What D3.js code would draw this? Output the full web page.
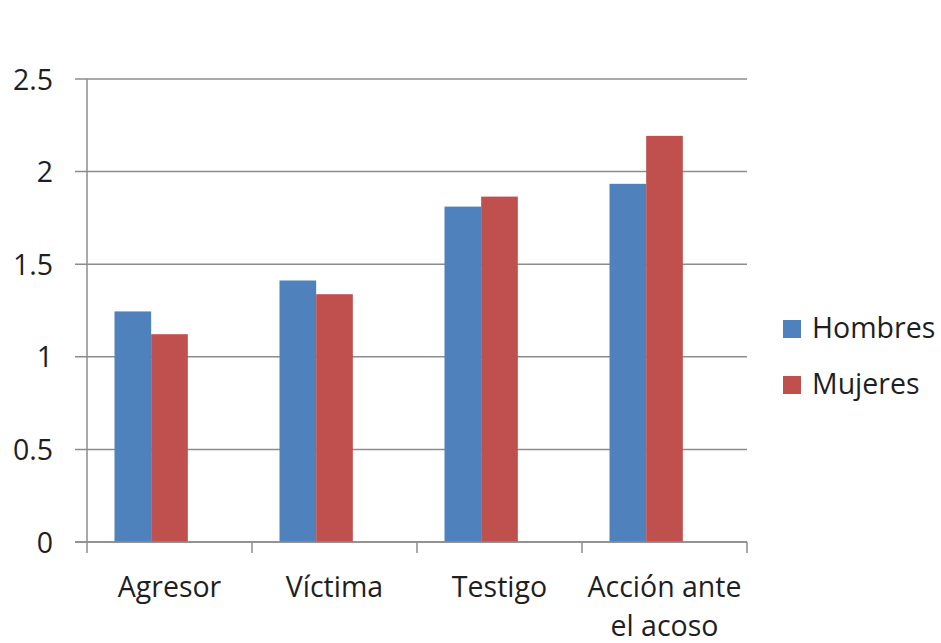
<!DOCTYPE html>
<html>
<head>
<meta charset="utf-8">
<script src="https://cdn.jsdelivr.net/npm/d3@7"></script>
<style>
  html, body { margin: 0; padding: 0; background: #fff; }
  svg text { font-family: "Open Sans", "Liberation Sans", sans-serif; fill: #1f1f1f; }
</style>
</head>
<body>
<svg id="chart" width="941" height="643"></svg>
<script>
// Categories and series
const categories = ["Agresor", "Víctima", "Testigo", "Acción ante el acoso"];
const categoryLines = [["Agresor"], ["Víctima"], ["Testigo"], ["Acción ante", "el acoso"]];
const seriesNames = ["Hombres", "Mujeres"];
const hombres = [1.245, 1.412, 1.811, 1.934];
const mujeres = [1.122, 1.338, 1.865, 2.193];
const yTicks = [0, 0.5, 1, 1.5, 2, 2.5];
const yTickLabels = ["0", "0.5", "1", "1.5", "2", "2.5"];
const colors = ["#4F81BD", "#C0504D"];

const seriesValues = [hombres, mujeres];
const fontSize = 28.5;

const svg = d3.select("#chart");
const plot = { left: 87, right: 747, top: 79, bottom: 542 };

const x0 = d3.scaleBand().domain(categories).range([plot.left, plot.right]).padding(0);
const y = d3.scaleLinear().domain([0, 2.5]).range([plot.bottom, plot.top]);

// Bar width follows a clustered layout with a 150% gap (3 slots per category)
const bw = x0.bandwidth() / 4.5;
const x1 = d3.scaleBand().domain(seriesNames).range([bw * 0.75, bw * 2.75]).padding(0);

const gridColor = "#8c8c8c";

// Horizontal gridlines with short left ticks
svg.append("g")
  .selectAll("line")
  .data(yTicks)
  .join("line")
  .attr("x1", plot.left - 12)
  .attr("x2", plot.right)
  .attr("y1", d => y(d))
  .attr("y2", d => y(d))
  .attr("stroke", gridColor)
  .attr("stroke-width", 1.5);

// Y axis line
svg.append("line")
  .attr("x1", plot.left).attr("x2", plot.left)
  .attr("y1", plot.top).attr("y2", plot.bottom)
  .attr("stroke", gridColor).attr("stroke-width", 1.5);

// Y tick labels
svg.append("g")
  .selectAll("text")
  .data(yTicks)
  .join("text")
  .attr("x", 53)
  .attr("y", d => y(d) + 10.5)
  .attr("text-anchor", "end")
  .attr("font-size", fontSize)
  .text((d, i) => yTickLabels[i]);

// Bars
const groups = svg.append("g")
  .selectAll("g")
  .data(categories)
  .join("g")
  .attr("transform", d => `translate(${x0(d)},0)`);

groups.selectAll("rect")
  .data((c, ci) => seriesNames.map((s, si) => ({ s, v: seriesValues[si][ci], si })))
  .join("rect")
  .attr("x", d => x1(d.s))
  .attr("width", x1.bandwidth())
  .attr("y", d => y(d.v))
  .attr("height", d => y(0) - y(d.v))
  .attr("fill", d => colors[d.si]);

// X axis line and category ticks
svg.append("line")
  .attr("x1", plot.left - 12).attr("x2", plot.right)
  .attr("y1", plot.bottom).attr("y2", plot.bottom)
  .attr("stroke", gridColor).attr("stroke-width", 1.5);

const tickPos = categories.map(c => x0(c)).concat([plot.right]);
svg.append("g")
  .selectAll("line")
  .data(tickPos)
  .join("line")
  .attr("x1", d => d).attr("x2", d => d)
  .attr("y1", plot.bottom).attr("y2", plot.bottom + 11)
  .attr("stroke", gridColor).attr("stroke-width", 1.5);

// Category labels
const catText = svg.append("g")
  .selectAll("text")
  .data(categories)
  .join("text")
  .attr("text-anchor", "middle")
  .attr("font-size", fontSize)
  .attr("x", d => x0(d) + x0.bandwidth() / 2)
  .attr("y", 597);

catText.each(function (d, i) {
  const t = d3.select(this);
  categoryLines[i].forEach((line, li) => {
    t.append("tspan")
      .attr("x", x0(d) + x0.bandwidth() / 2)
      .attr("dy", li === 0 ? 0 : 39)
      .text(line);
  });
});

// Legend
const legend = svg.append("g")
  .selectAll("g")
  .data(seriesNames)
  .join("g")
  .attr("transform", (d, i) => `translate(783,${320 + i * 56})`);

legend.append("rect")
  .attr("width", 18).attr("height", 18)
  .attr("fill", (d, i) => colors[i]);

legend.append("text")
  .attr("x", 29)
  .attr("y", 18)
  .attr("font-size", fontSize)
  .text(d => d);
</script>
</body>
</html>
